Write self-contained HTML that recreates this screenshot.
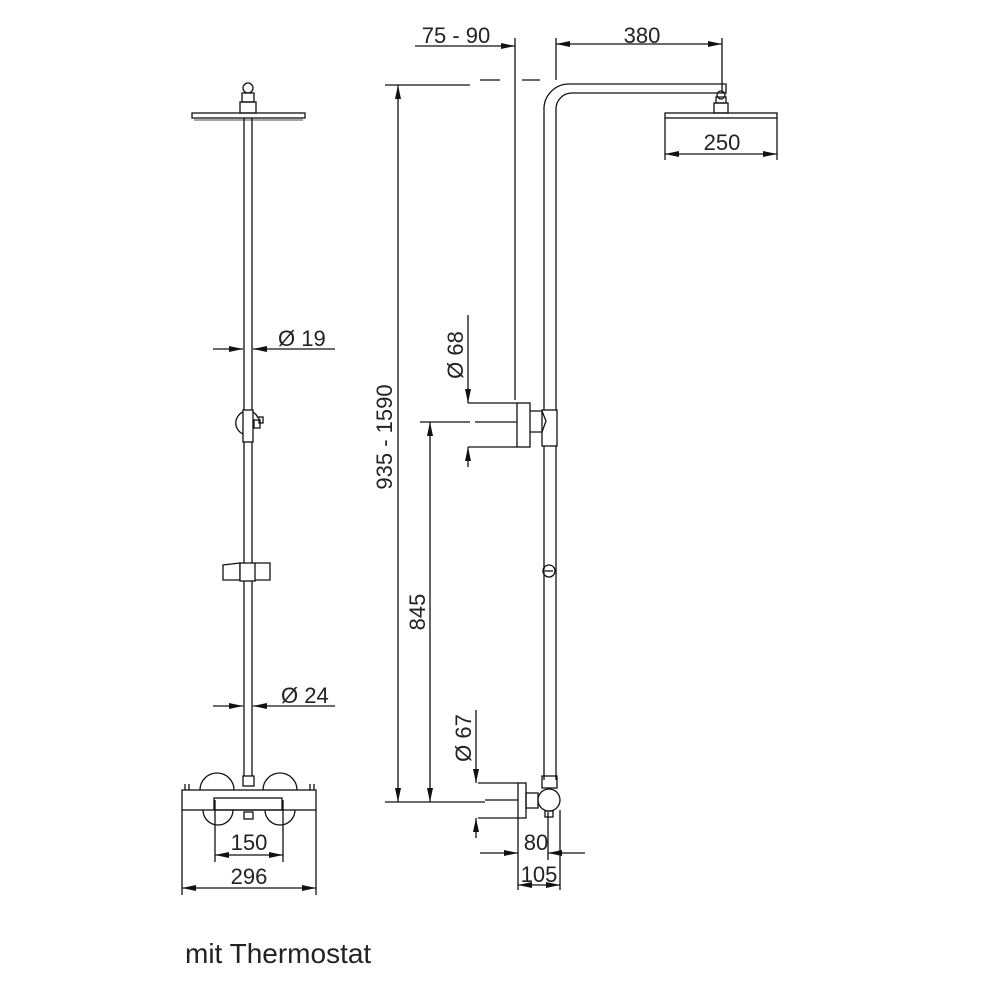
<!DOCTYPE html>
<html><head><style>body{margin:0;background:#fff}svg{display:block}text{font-family:"Liberation Sans",sans-serif;fill:#222}</style></head><body>
<svg width="1000" height="1000" viewBox="0 0 1000 1000" xmlns="http://www.w3.org/2000/svg">
<defs><marker id="a" viewBox="0 0 14 6" refX="14" refY="3" markerWidth="14" markerHeight="6" orient="auto-start-reverse" markerUnits="userSpaceOnUse"><path d="M0,0L14,3L0,6z" fill="#111"/></marker></defs>
<g stroke="#111" stroke-width="1.3" fill="none">
<rect x="192" y="113" width="113" height="5" fill="#fff"/>
<line x1="194" y1="120" x2="303" y2="120" stroke-width="0.8"/>
<rect x="240" y="102" width="16" height="11"/>
<rect x="242" y="93" width="12" height="9"/>
<circle cx="248" cy="88" r="5"/>
<line x1="244" y1="118" x2="244" y2="778"/><line x1="252" y1="118" x2="252" y2="778"/>
<path d="M243,412 A12,12 0 0 0 243,434"/><path d="M253,412 A12,12 0 0 1 258,418"/>
<rect x="243" y="410" width="10" height="32" fill="#fff"/>
<rect x="254" y="420" width="6" height="8"/><rect x="259" y="417" width="4" height="6"/>
<path d="M223,565 L240,563 L240,580 L223,580 Z"/><rect x="240" y="563" width="15" height="18" fill="#fff"/><path d="M255,563 L270,563 L270,580 L255,580"/>
<rect x="243" y="776" width="11" height="10" fill="#fff"/>
<rect x="182" y="790" width="134" height="20"/>
<line x1="185" y1="784" x2="185" y2="790"/><line x1="189" y1="784" x2="189" y2="790"/>
<line x1="310" y1="784" x2="310" y2="790"/><line x1="314" y1="784" x2="314" y2="790"/>
<path d="M200,790 A17,17 0 0 1 234,790"/><path d="M263,790 A17,17 0 0 1 297,790"/>
<path d="M203,810 A15,15 0 0 0 233,810"/><path d="M265,810 A15,15 0 0 0 295,810"/>
<rect x="214" y="798" width="68" height="12"/>
<rect x="244" y="812" width="9" height="7"/>
<line x1="213" y1="349" x2="243" y2="349" marker-end="url(#a)"/><line x1="335" y1="349" x2="253" y2="349" marker-end="url(#a)"/>
<line x1="213" y1="706" x2="243" y2="706" marker-end="url(#a)"/><line x1="335" y1="706" x2="253" y2="706" marker-end="url(#a)"/>
<line x1="215" y1="800" x2="215" y2="862"/><line x1="283" y1="800" x2="283" y2="862"/>
<line x1="215" y1="855" x2="283" y2="855" marker-start="url(#a)" marker-end="url(#a)"/>
<line x1="182" y1="810" x2="182" y2="895"/><line x1="316" y1="810" x2="316" y2="895"/>
<line x1="182" y1="888" x2="316" y2="888" marker-start="url(#a)" marker-end="url(#a)"/>
<path d="M544,780 L544,110 A25,25 0 0 1 569,84 L726,84 L726,93 L571,93 A16,16 0 0 0 556,109 L556,780"/>
<rect x="714" y="103" width="14" height="10"/><rect x="716" y="97" width="10" height="6"/><circle cx="721" cy="95" r="4"/>
<rect x="665" y="113" width="112" height="5"/>
<rect x="542" y="410" width="15" height="36" fill="#fff"/>
<path d="M530,411 L542,411 L546,421 L542,432 L530,432"/>
<rect x="517" y="403" width="13" height="44" fill="#fff"/>
<line x1="468" y1="403" x2="517" y2="403"/><line x1="468" y1="447" x2="517" y2="447"/>
<line x1="475" y1="422" x2="517" y2="422"/>
<circle cx="549" cy="571" r="6"/><line x1="545" y1="571" x2="553" y2="571"/>
<rect x="542" y="776" width="15" height="12"/>
<circle cx="549" cy="800" r="11" fill="#fff"/>
<rect x="545" y="811" width="8" height="6"/>
<rect x="526" y="793" width="12" height="15"/>
<rect x="518" y="783" width="8" height="35"/>
<line x1="478" y1="783" x2="518" y2="783"/><line x1="478" y1="818" x2="518" y2="818"/>
<line x1="485" y1="800" x2="518" y2="800"/>
<line x1="515" y1="38" x2="515" y2="400"/>
<line x1="556" y1="38" x2="556" y2="80"/><line x1="722" y1="38" x2="722" y2="93"/>
<line x1="556" y1="44" x2="722" y2="44" marker-start="url(#a)" marker-end="url(#a)"/>
<line x1="415" y1="46" x2="515" y2="46" marker-end="url(#a)"/>
<line x1="480" y1="80" x2="500" y2="80"/><line x1="522" y1="80" x2="540" y2="80"/>
<line x1="665" y1="118" x2="665" y2="160"/><line x1="777" y1="118" x2="777" y2="160"/>
<line x1="665" y1="154" x2="777" y2="154" marker-start="url(#a)" marker-end="url(#a)"/>
<line x1="385" y1="85" x2="470" y2="85"/>
<line x1="385" y1="802" x2="485" y2="802"/>
<line x1="398" y1="85" x2="398" y2="802" marker-start="url(#a)" marker-end="url(#a)"/>
<line x1="420" y1="422" x2="470" y2="422"/>
<line x1="430" y1="422" x2="430" y2="802" marker-start="url(#a)" marker-end="url(#a)"/>
<line x1="468" y1="315" x2="468" y2="403" marker-end="url(#a)"/><line x1="468" y1="467" x2="468" y2="447" marker-end="url(#a)"/>
<line x1="476" y1="710" x2="476" y2="783" marker-end="url(#a)"/><line x1="476" y1="838" x2="476" y2="818" marker-end="url(#a)"/>
<line x1="518" y1="818" x2="518" y2="890"/><line x1="560" y1="810" x2="560" y2="890"/>
<line x1="548" y1="812" x2="548" y2="860"/>
<line x1="480" y1="853" x2="518" y2="853" marker-end="url(#a)"/><line x1="585" y1="853" x2="548" y2="853" marker-end="url(#a)"/>
<line x1="518" y1="885" x2="560" y2="885" marker-start="url(#a)" marker-end="url(#a)"/>
</g>
<g font-size="22">
<text x="278" y="346">Ø 19</text>
<text x="281" y="703">Ø 24</text>
<text x="249" y="850" text-anchor="middle">150</text>
<text x="249" y="884" text-anchor="middle">296</text>
<text x="456" y="43" text-anchor="middle">75  - 90</text>
<text x="642" y="43" text-anchor="middle">380</text>
<text x="722" y="150" text-anchor="middle">250</text>
<text transform="translate(392,437) rotate(-90)" text-anchor="middle">935 - 1590</text>
<text transform="translate(425,612) rotate(-90)" text-anchor="middle">845</text>
<text transform="translate(463,355) rotate(-90)" text-anchor="middle">Ø 68</text>
<text transform="translate(471,738) rotate(-90)" text-anchor="middle">Ø 67</text>
<text x="536" y="850" text-anchor="middle">80</text>
<text x="539" y="882" text-anchor="middle">105</text>
<text x="185" y="963" font-size="28">mit Thermostat</text>
</g>
</svg>
</body></html>
